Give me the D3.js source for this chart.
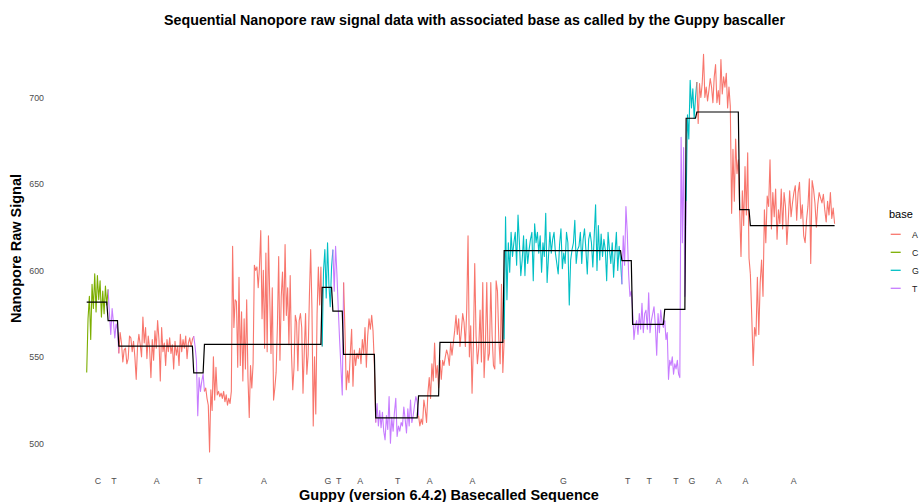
<!DOCTYPE html>
<html>
<head>
<meta charset="utf-8">
<script src="https://cdn.jsdelivr.net/npm/d3@7"></script>
<style>
  body { margin: 0; background: #fff; }
  svg { display: block; font-family: "Liberation Sans", Arial, sans-serif; }
</style>
</head>
<body>
<svg id="chart" width="921" height="502"></svg>
<script>
// legend categories and ggplot hue colours
const baseNames = ["A", "C", "G", "T"];
const baseColors = ["#F8766D", "#7CAE00", "#00BFC4", "#C77CFF"];

// called sequence, number of moves per base, mean signal per base
const calledBases = ["C", "T", "A", "T", "A", "G", "T", "A", "T", "A", "A", "G", "T", "T", "T", "G", "A", "A", "A"];
const moveCounts = [2, 1, 7, 1, 11, 1, 1, 3, 4, 2, 6, 11, 1, 3, 2, 1, 4, 1, 8];
const meanLevels = [581.7, 570.9, 556.2, 540.7, 557.2, 590.2, 576.5, 551.4, 514.7, 527.4, 558.4,
  611.4, 605.6, 568.8, 577.5, 688, 691.6, 635.2, 625.9];

// raw signal samples for each called base
const rawSignal = [
  [541, 572, 585, 560, 592, 578, 598, 576, 597, 583, 594, 573, 588, 575, 591, 580],
  [589, 575, 563, 578, 570, 561, 569, 566],
  [552, 564, 558, 547, 554, 555, 546, 549, 562, 561, 553, 559, 550, 537, 556, 563, 557, 550, 573, 558,
   567, 549, 562, 555, 538, 560, 548, 565, 555, 571, 560, 536, 567, 553, 558, 545, 560, 553, 561, 552,
   557, 543, 559, 551, 556, 545, 563, 553, 560, 555, 562, 549, 558, 561, 556, 560],
  [562, 556, 548, 516, 538, 530, 536, 540],
  [530, 532, 526, 522, 495, 531, 519, 550, 525, 544, 528, 530, 527, 529, 526, 530, 524, 528, 522, 526,
   523, 530, 614, 567, 583, 582, 544, 596, 545, 576, 536, 572, 543, 583, 538, 515, 545, 532, 546, 603,
   600, 602, 590, 602, 623, 572, 600, 555, 610, 553, 620, 585, 552, 590, 525, 532, 541, 568, 608, 548,
   585, 599, 571, 615, 574, 590, 557, 597, 552, 531, 544, 574, 570, 542, 571, 575, 567, 529, 553, 575,
   540, 551, 585, 612, 578, 510, 550, 517, 575, 602, 580, 602],
  [556, 600, 612, 584, 616, 592, 579, 602],
  [612, 588, 614, 598, 578, 560, 544, 528],
  [593, 566, 531, 542, 535, 552, 566, 533, 554, 545, 552, 549, 555, 546, 560, 552, 567, 544, 562, 572,
   566, 574, 565, 545],
  [512, 523, 510, 519, 509, 518, 507, 502, 516, 508, 527, 500, 515, 507, 518, 526, 504, 510, 507, 512,
   510, 521, 514, 506, 520, 510, 525, 512, 516, 522, 527, 524],
  [516, 510, 514, 511, 525, 520, 512, 529, 538, 526, 546, 536, 558, 538, 545, 532],
  [548, 537, 548, 545, 550, 554, 551, 545, 558, 551, 558, 565, 574, 563, 572, 556, 565, 575, 570, 556,
   577, 620, 550, 568, 529, 557, 604, 562, 546, 555, 577, 547, 593, 538, 557, 593, 548, 552, 593, 562,
   545, 543, 594, 588, 560, 546, 592, 541],
  [560, 631, 583, 616, 599, 622, 608, 616, 622, 603, 632, 616, 597, 606, 620, 597, 618, 604, 612, 618,
   622, 594, 627, 616, 622, 610, 620, 599, 616, 608, 633, 593, 608, 622, 610, 618, 622, 610, 604, 598,
   615, 624, 601, 610, 604, 622, 616, 580, 606, 612, 616, 629, 604, 612, 614, 622, 604, 618, 624, 612,
   598, 618, 622, 616, 602, 620, 638, 600, 626, 606, 621, 608, 618, 612, 594, 622, 612, 604, 616, 596,
   610, 622, 600, 614, 606],
  [592, 620, 603, 637, 622, 598, 585, 588],
  [577, 560, 568, 571, 563, 575, 566, 581, 564, 575, 577, 566, 587, 564, 571, 575, 579, 568, 551, 575,
   564, 577, 570, 567],
  [571, 560, 564, 537, 548, 545, 550, 540, 546, 543, 548, 540, 538, 677, 616, 671, 585],
  [640, 690, 676, 710, 694, 705, 688, 700],
  [709, 685, 708, 700, 708, 725, 700, 706, 698, 704, 711, 706, 697, 712, 719, 697, 704, 696, 722, 702,
   712, 706, 714, 694, 706, 695, 633, 670, 640, 676, 656, 664],
  [635, 608, 646, 626, 660, 632, 668, 607],
  [598, 573, 545, 567, 562, 596, 563, 593, 606, 585, 635, 616, 643, 637, 664, 624, 645, 631, 647, 618,
   635, 627, 647, 624, 645, 637, 615, 629, 646, 631, 639, 645, 649, 629, 645, 651, 630, 638, 620, 616,
   629, 637, 653, 604, 652, 647, 639, 625, 638, 645, 642, 639, 644, 635, 628, 640, 632, 645, 630, 636, 627]
];

const yTicks = [500, 550, 600, 650, 700];

const svg = d3.select("#chart");
const totalMoves = d3.sum(moveCounts);

const x = d3.scaleLinear().domain([0, totalMoves]).range([86.7, 836]);
const y = d3.scaleLinear().domain([500, 700]).range([443.3, 97.5]);
const color = d3.scaleOrdinal().domain(baseNames).range(baseColors);

// lay out every sample evenly within its base's move span
let starts = [];
let acc = 0;
moveCounts.forEach((m) => { starts.push(acc); acc += m; });

let segments = rawSignal.map((vals, k) => {
  return vals.map((v, j) => ({
    pos: starts[k] + (j * moveCounts[k]) / vals.length,
    value: v,
    level: meanLevels[k]
  }));
});

const line = d3.line().x((d) => x(d.pos)).y((d) => y(d.value));

// raw signal, coloured by base (each piece joins the next base's first sample)
segments.forEach((seg, k) => {
  let pts = seg.slice();
  if (k < segments.length - 1) pts.push(segments[k + 1][0]);
  svg.append("path")
    .attr("d", line(pts))
    .attr("fill", "none")
    .attr("stroke", color(calledBases[k]))
    .attr("stroke-width", 1.1)
    .attr("stroke-linejoin", "round");
});

// mean level per base
const stepLine = d3.line().x((d) => x(d.pos)).y((d) => y(d.level));
svg.append("path")
  .attr("d", stepLine(segments.flat()))
  .attr("fill", "none")
  .attr("stroke", "#000")
  .attr("stroke-width", 1.2);

// axes
const yAxis = svg.append("g")
  .attr("transform", "translate(44,0)")
  .call(d3.axisLeft(y).tickValues(yTicks).tickSize(0).tickPadding(0));
yAxis.select(".domain").remove();
yAxis.selectAll("text")
  .attr("fill", "#4D4D4D")
  .style("font-size", "8.8px")
  .style("font-family", "Liberation Sans, Arial, sans-serif");

const centers = moveCounts.map((m, k) => starts[k] + m / 2);
const xAxis = svg.append("g")
  .attr("transform", "translate(0,474.5)")
  .call(d3.axisBottom(x).tickValues(centers).tickSize(0).tickPadding(3)
    .tickFormat((d, i) => calledBases[i]));
xAxis.select(".domain").remove();
xAxis.selectAll("text")
  .attr("fill", "#4D4D4D")
  .style("font-size", "8.8px")
  .style("font-family", "Liberation Sans, Arial, sans-serif");

// titles
svg.append("text")
  .attr("x", 474.5)
  .attr("y", 25)
  .attr("text-anchor", "middle")
  .style("font-size", "14.25px")
  .style("font-weight", "bold")
  .text("Sequential Nanopore raw signal data with associated base as called by the Guppy bascaller");

svg.append("text")
  .attr("x", 449)
  .attr("y", 499.5)
  .attr("text-anchor", "middle")
  .style("font-size", "14.5px")
  .style("font-weight", "bold")
  .text("Guppy (version 6.4.2) Basecalled Sequence");

svg.append("text")
  .attr("transform", "translate(21,248.5) rotate(-90)")
  .attr("text-anchor", "middle")
  .style("font-size", "14.5px")
  .style("font-weight", "bold")
  .text("Nanopore Raw Signal");

// legend
const legend = svg.append("g").attr("transform", "translate(889,0)");
legend.append("text")
  .attr("x", 0)
  .attr("y", 218)
  .style("font-size", "11px")
  .text("base");

baseNames.forEach((b, i) => {
  let yy = 234.3 + i * 18;
  legend.append("line")
    .attr("x1", 1.7).attr("x2", 11.7)
    .attr("y1", yy).attr("y2", yy)
    .attr("stroke", color(b))
    .attr("stroke-width", 1.3);
  legend.append("text")
    .attr("x", 23)
    .attr("y", yy + 3.2)
    .style("font-size", "8.8px")
    .attr("fill", "#1A1A1A")
    .text(b);
});
</script>
</body>
</html>
